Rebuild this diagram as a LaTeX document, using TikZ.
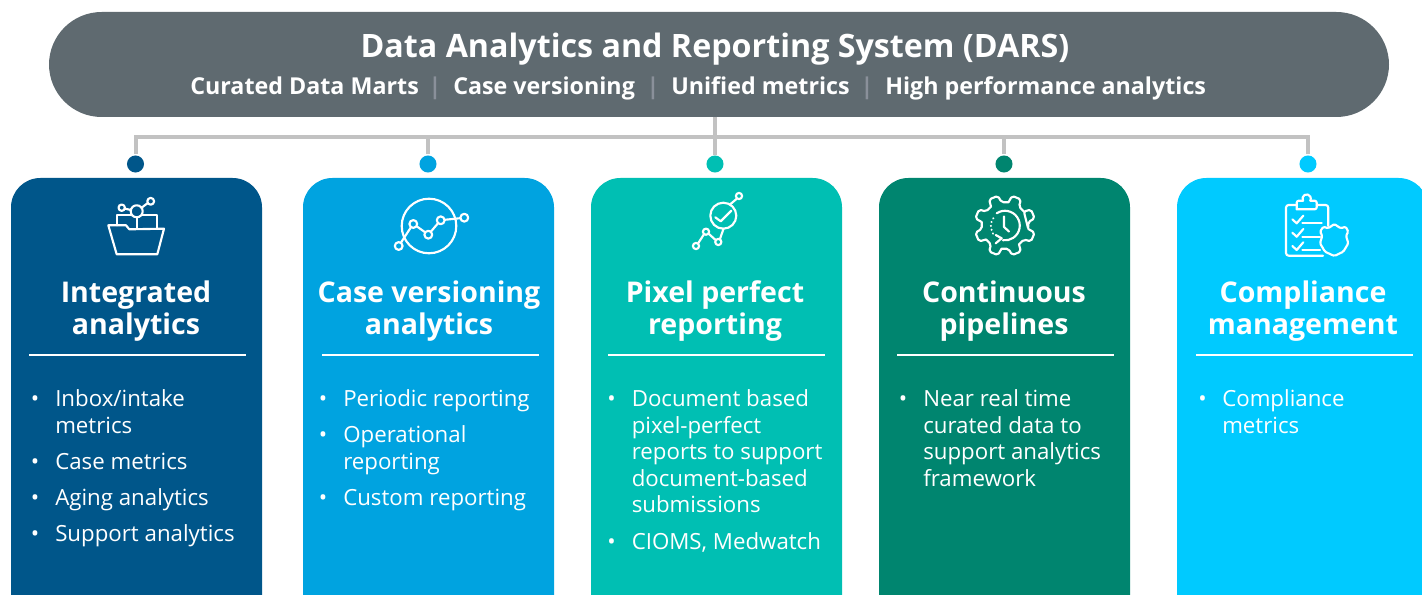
\documentclass[tikz,border=0pt]{standalone}
\usepackage{fontspec}
\setmainfont{Open Sans}
\definecolor{cA}{HTML}{00568A}
\definecolor{cB}{HTML}{00A3E0}
\definecolor{cC}{HTML}{00BFB3}
\definecolor{cD}{HTML}{00856F}
\definecolor{cE}{HTML}{00CAFF}
\definecolor{cT}{HTML}{5F6A70}
\definecolor{cL}{HTML}{C2C2C2}
\definecolor{cS}{HTML}{8A909A}
\newcommand{\lead}{\rule{0pt}{16pt}}
\tikzset{
 x=0.75pt,y=-0.75pt,
 card/.style={rounded corners=22pt,line width=0pt},
 dot/.style={circle,minimum size=12.8pt,inner sep=0pt},
 conn/.style={draw=cL,line width=3pt},
 head/.style={text=white,font=\bfseries\fontsize{21.4}{24}\selectfont,align=center,anchor=base,inner sep=0pt},
 item/.style={text=white,font=\fontsize{16.7}{19.9}\selectfont,align=left,anchor=north west,inner sep=0pt},
 bul/.style={text=white,font=\fontsize{16.7}{19.9}\selectfont,anchor=north west,inner sep=0pt},
 sub/.style={text=white,font=\bfseries\fontsize{17.45}{20}\selectfont,anchor=base west,inner sep=0pt},
 sep/.style={text=cS,font=\bfseries\fontsize{17.45}{20}\selectfont,anchor=base,inner sep=0pt},
 rule/.style={draw=white,line width=1.5pt},
 ic/.style={draw=white,line width=1.6pt,line join=round,line cap=round},
}
\begin{document}
\begin{tikzpicture}
\useasboundingbox (0,0) rectangle (1422,595);
\clip (0,0) rectangle (1422,595);
% title
\fill[cT,rounded corners=39.5pt] (49,12) rectangle (1389,117);
\coordinate (tb) at (715,117);
\node[text=white,font=\bfseries\fontsize{24.17}{28}\selectfont,anchor=base,inner sep=0pt] (t1) at (715,58) {Data Analytics and Reporting System (DARS)};
\node[sub] (s1) at (190,95) {Curated Data Marts};
\node[sep] (p1) at (435,95) {|};
\node[sub] (s2) at (453,95) {Case versioning};
\node[sep] (p2) at (653,95) {|};
\node[sub] (s3) at (671,95) {Unified metrics};
\node[sep] (p3) at (867,95) {|};
\node[sub] (s4) at (885,95) {High performance analytics};
% dots
\node[dot,fill=cA] (d1) at (135.5,164) {};
\node[dot,fill=cB] (d2) at (428,164) {};
\node[dot,fill=cC] (d3) at (715,164) {};
\node[dot,fill=cD] (d4) at (1004,164) {};
\node[dot,fill=cE] (d5) at (1308,164) {};
% connectors
\coordinate (bus) at (715,137);
\draw[conn] (d1.north) ++(0,-1) |- (bus);
\draw[conn] (d2.north) ++(0,-1) |- (bus);
\draw[conn] (d4.north) ++(0,-1) |- (bus);
\draw[conn] (d5.north) ++(0,-1) |- (bus);
\draw[conn] (tb) -- (d3.north);
% cards
\fill[cA,card] (11,178) rectangle (262,640);
\fill[cB,card] (303,178) rectangle (554,640);
\fill[cC,card] (591,178) rectangle (842,640);
\fill[cD,card] (879,178) rectangle (1130,640);
\fill[cE,card] (1177,178) rectangle (1428,640);
% headings
\node[head] (h1) at (136,303) {Integrated};
\node[head] (h1b) at (136,335) {analytics};
\node[head] (h2) at (429,303) {Case versioning};
\node[head] (h2b) at (429,335) {analytics};
\node[head] (h3) at (715,303) {Pixel perfect};
\node[head] (h3b) at (715,335) {reporting};
\node[head] (h4) at (1004,303) {Continuous};
\node[head] (h4b) at (1004,335) {pipelines};
\node[head] (h5) at (1303,303) {Compliance};
\node[head] (h5b) at (1303,335) {management};
% rules
\draw[rule] (29,355) -- (246,355);
\draw[rule] (322,355) -- (539,355);
\draw[rule] (608,355) -- (825,355);
\draw[rule] (897,355) -- (1114,355);
\draw[rule] (1196,355) -- (1413,355);
% card 1 list
\node[bul] (b11) at (30.5,385) {\lead•};
\node[item] (i11) at (55,385) {\lead Inbox/intake\\metrics};
\node[bul] (b12) at (30.5,448) {\lead•};
\node[item] (i12) at (55,448) {\lead Case metrics};
\node[bul] (b13) at (30.5,484) {\lead•};
\node[item] (i13) at (55,484) {\lead Aging analytics};
\node[bul] (b14) at (30.5,520) {\lead•};
\node[item] (i14) at (55,520) {\lead Support analytics};
% card 2 list
\node[bul] (b21) at (318.5,385) {\lead•};
\node[item] (i21) at (343,385) {\lead Periodic reporting};
\node[bul] (b22) at (318.5,421) {\lead•};
\node[item] (i22) at (343,421) {\lead Operational\\reporting};
\node[bul] (b23) at (318.5,484) {\lead•};
\node[item] (i23) at (343,484) {\lead Custom reporting};
% card 3 list
\node[bul] (b31) at (607,385) {\lead•};
\node[item] (i31) at (631.5,385) {\lead Document based\\pixel-perfect\\reports to support\\document-based\\submissions};
\node[bul] (b32) at (607,528) {\lead•};
\node[item] (i32) at (631.5,528) {\lead CIOMS, Medwatch};
% card 4 list
\node[bul] (b41) at (898.5,385) {\lead•};
\node[item] (i41) at (923,385) {\lead Near real time\\curated data to\\support analytics\\framework};
% card 5 list
\node[bul] (b51) at (1198,385) {\lead•};
\node[item] (i51) at (1222,385) {\lead Compliance\\metrics};
% icon 1
\draw[ic] (121.7,207.7) circle (3.2);
\draw[ic] (150.7,201.3) circle (3.4);
\draw[ic] (136.7,211.3) circle (6);
\draw[ic] (124.7,208.6) -- (131,210);
\draw[ic] (141.5,207.8) -- (147.8,203);
\draw[ic] (108.3,225.3) -- (126,225.3) -- (129.3,229.3) -- (164,228.7) -- (157.3,254.3) -- (116.7,254.3) -- cycle;
\draw[ic] (117.3,225.3) -- (117.3,215.3) -- (131,215.3);
\draw[ic] (142.5,215.3) -- (156.7,215.3) -- (156.7,228.7);
\draw[ic] (136.7,217.3) -- (136.7,228.7);
% icon 2
\draw[ic] (429,226) circle (27.3);
\draw[ic] (401,242.5) -- (410.8,227.5);
\draw[ic] (417,226.5) -- (424.7,232);
\draw[ic] (431,231.5) -- (437.8,223.5);
\draw[ic] (444.8,219.8) -- (460.2,218.2);
\draw[ic] (398.7,246) circle (3.9);
\draw[ic] (413.3,224) circle (3.9);
\draw[ic] (428.3,234.7) circle (3.9);
\draw[ic] (440.7,220.3) circle (3.9);
\draw[ic] (464.3,217.7) circle (3.9);
% icon 3
\draw[ic] (723.3,215.7) circle (13);
\draw[ic] (715.3,217.3) -- (720.7,221.3) -- (731.3,210.7);
\draw[ic] (698,243.5) -- (704,234.2);
\draw[ic] (708.6,233.7) -- (715.6,240);
\draw[ic] (720,239) -- (723.5,228.7);
\draw[ic] (730,204.5) -- (736.8,198.7);
\draw[ic] (696,246) circle (3.1);
\draw[ic] (706,231.7) circle (3.1);
\draw[ic] (718.3,242) circle (3.1);
\draw[ic] (739,196) circle (3.1);
% icon 4
\begin{scope}[shift={(1005,225.5)}]
\draw[ic,rounded corners=1.5pt] \foreach \a in {0,45,...,315}{
  ({\a+22.5-14}:23.5) -- ({\a+22.5-9}:30.5) -- ({\a+22.5+9}:30.5) -- ({\a+22.5+14}:23.5)
  -- ({\a+45+22.5-14}:23.5)
} -- cycle;
\draw[ic] (-8.3,-12.2) arc[start angle=236,end angle=458,radius=14.8];
\draw[ic] (-1,-9) -- (-1,1.5) -- (4,6);
\draw[ic,line width=1.6pt,dash pattern=on 0.1pt off 2.9pt] (-11.7,-7.2) .. controls (-15.5,-2) and (-15,5) .. (-10,11);
\draw[ic] (-9.3,9.5) -- (-3.3,12.8) -- (-9.3,17.8);
\end{scope}
% icon 5
\draw[ic,rounded corners=2pt] (1316.7,205) -- (1328.3,205) -- (1328.3,226);
\draw[ic,rounded corners=2pt] (1296.7,205) -- (1286,205) -- (1286,255.7) -- (1323,255.7);
\draw[ic,rounded corners=1.5pt] (1296.7,209.3) -- (1296.7,200.7) -- (1303,200.7);
\draw[ic] (1303,200.7) arc[start angle=150,end angle=390,radius=4.2];
\draw[ic,rounded corners=1.5pt] (1310.3,200.7) -- (1316.7,200.7) -- (1316.7,209.3) -- (1296.7,209.3);
\draw[ic] (1292.3,219.3) -- (1296.7,223.3) -- (1303.3,215.7);
\draw[ic] (1292.3,232.7) -- (1296.7,236.7) -- (1303.3,229);
\draw[ic] (1292.3,246) -- (1296.7,250) -- (1303.3,242.3);
\draw[ic] (1302.3,223.3) -- (1321.7,223.3);
\draw[ic] (1302.3,236.7) -- (1320,236.7);
\draw[ic] (1302.3,250) -- (1320,250);
\draw[ic,fill=cE,rounded corners=1pt] (1323.3,226.7) -- (1328.3,228.3) -- (1334.3,224) -- (1340.7,228.3) -- (1345.7,226.7) -- (1348.3,231.7) -- (1346,235.7) -- (1348.3,243.3) -- (1343.3,251.7) -- (1334.3,256) -- (1325,251.7) -- (1320,243.3) -- (1322.3,235.7) -- (1320,231.7) -- cycle;
\end{tikzpicture}
\end{document}
